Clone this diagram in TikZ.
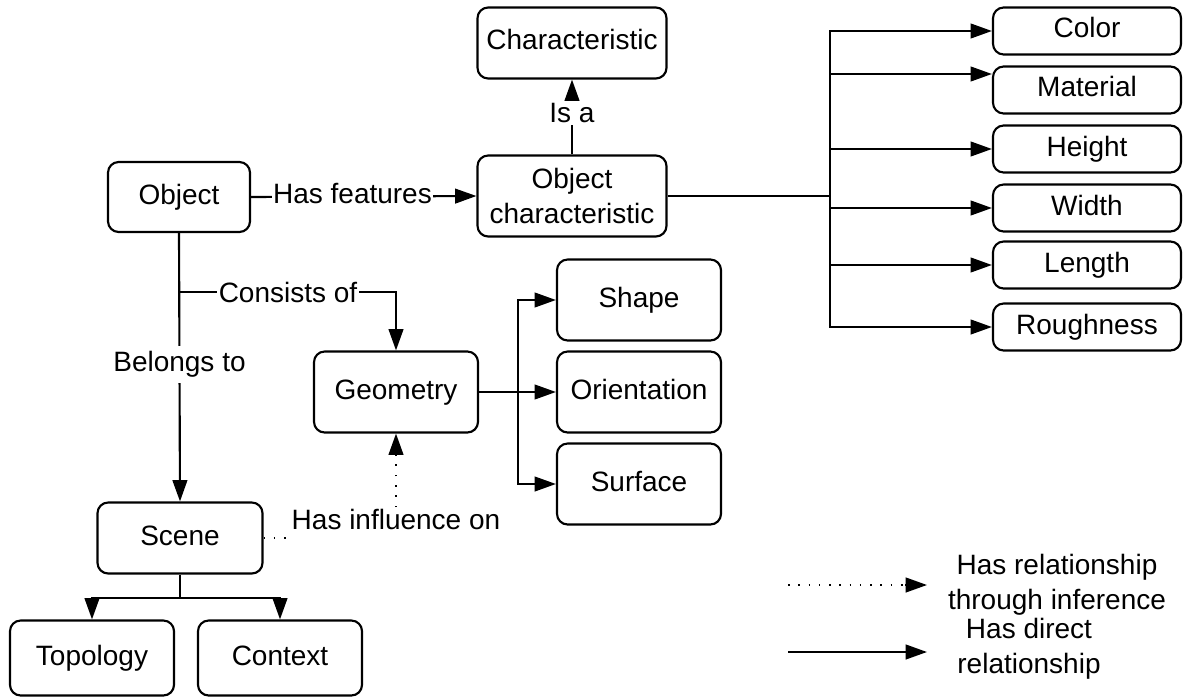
\documentclass[tikz,border=0pt]{standalone}
\usepackage{fontspec}
\setmainfont{Liberation Sans}
\usetikzlibrary{arrows.meta,calc}
\begin{document}
\begin{tikzpicture}[x=0.75pt,y=-0.75pt,
  every node/.style={font=\fontsize{21}{26}\selectfont},
  box/.style={draw,line width=1.6pt,rounded corners=8pt,inner sep=0pt,align=center,text height=15pt,text depth=4.5pt},
  lbl/.style={fill=white,inner sep=2pt,align=center},
  conn/.style={line width=1.6pt},
  tip/.style={-{Triangle[length=16pt,width=11pt]}},
  arr/.style={conn,tip},
  dotconn/.style={line width=1.3pt,dash pattern=on 1.2pt off 6.5pt}
]
\useasboundingbox (0,0) rectangle (1184,699);
% nodes
\node[box,minimum width=141.75pt,minimum height=53.25pt] (Char) at (572,43) {Characteristic};
\node[box,minimum width=106.5pt,minimum height=52.5pt] (Obj) at (179,197) {Object};
\node[draw,line width=1.6pt,rounded corners=8pt,inner sep=0pt,align=center,minimum width=141.75pt,minimum height=60.75pt] (OC) at (572,196) {Object\\characteristic};
\foreach \n/\t/\y in {Color/Color/31,Material/Material/90,Height/Height/149,Width/Width/208,Length/Length/265,Rough/Roughness/327}{
  \node[box,minimum width=141pt,minimum height=35.25pt] (\n) at (1087,\y) {\t};
}
\node[box,minimum width=123pt,minimum height=60.75pt] (Geo) at (396,392) {Geometry};
\node[box,minimum width=123pt,minimum height=60.75pt] (Shape) at (639,300) {Shape};
\node[box,minimum width=123pt,minimum height=60.75pt] (Orient) at (639,392) {Orientation};
\node[box,minimum width=123pt,minimum height=60.75pt] (Surf) at (639,484) {Surface};
\node[box,minimum width=123.75pt,minimum height=53.25pt] (Scene) at (180,538) {Scene};
\node[box,minimum width=123pt,minimum height=56.25pt] (Topo) at (92,658) {Topology};
\node[box,minimum width=123pt,minimum height=56.25pt] (Ctx) at (280,658) {Context};
% coordinates
\coordinate (ft) at (830,196);
\coordinate (gt) at (518,392);
\coordinate (st) at (180,598);
\coordinate (cb) at (180,292);
% connectors
\draw[arr] (Obj.east) -- node[lbl,pos=0.45,inner sep=1pt,yshift=2pt] {Has features} (OC.west);
\draw[arr] (OC.north) -- node[lbl,pos=0.5,yshift=3pt] {Is a} (Char.south);
\draw[conn] (OC.east) -- (ft);
\draw[arr] (ft) |- (Color.west);
\draw[arr] (ft) |- ([yshift=12pt]Material.west);
\draw[arr] (ft) |- (Height.west);
\draw[arr] (ft) |- (Width.west);
\draw[arr] (ft) |- (Length.west);
\draw[arr] (ft) |- (Rough.west);
\draw[arr] (Obj.south) -- node[lbl,pos=0.49,inner sep=4pt] {Belongs to} (Scene.north);
\draw[arr] (cb) -| node[lbl,pos=0.25,inner sep=1pt] {Consists of} (Geo.north);
\draw[conn] (Geo.east) -- (gt);
\draw[arr] (gt) |- (Shape.west);
\draw[arr] (gt) |- (Orient.west);
\draw[arr] (gt) |- (Surf.west);
\draw[conn] (Scene.south) -- (st);
\draw[arr] (st) -| (Topo.north);
\draw[arr] (st) -| (Ctx.north);
% influence
\node[inner sep=1pt] (infl) at (396,519) {Has influence on};
\draw[dotconn] (Scene.east) -- (Scene.east -| infl.west);
\draw[dotconn] (infl.north) -- ([yshift=-18pt]Geo.south);
\draw[conn,tip] ([yshift=-17pt]Geo.south) -- (Geo.south);
% legend
\coordinate (l1a) at (788,585);
\coordinate (l1b) at (927,585);
\coordinate (l2a) at (788,652);
\coordinate (l2b) at (927,652);
\draw[dotconn] (l1a) -- ([xshift=-14pt]l1b);
\draw[conn,tip] ([xshift=-16.5pt]l1b) -- (l1b);
\draw[arr] (l2a) -- (l2b);
\node[align=center] (leg1) at (1057,585) {Has relationship\\through inference};
\node[align=center] (leg2) at (1029,649) {Has direct\\relationship};
\end{tikzpicture}
\end{document}
